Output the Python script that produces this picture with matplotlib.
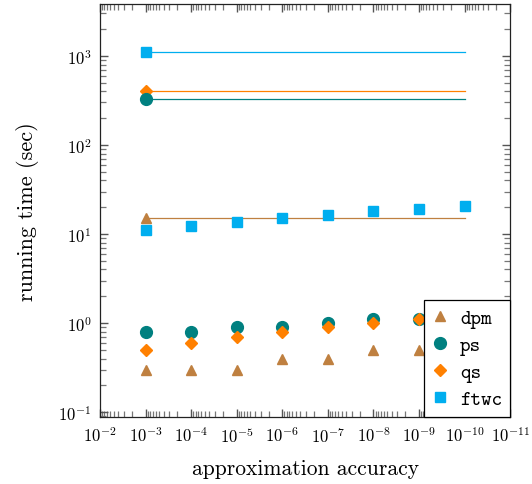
import matplotlib
matplotlib.use("Agg")
import matplotlib.pyplot as plt
from matplotlib.ticker import NullFormatter, FixedLocator
import numpy as np

# ======================================================
# DATA
# ======================================================

accuracy = [1e-3, 1e-4, 1e-5, 1e-6, 1e-7, 1e-8, 1e-9, 1e-10]

dpm = [0.3, 0.3, 0.3, 0.4, 0.4, 0.5, 0.5]
ps = [0.8, 0.8, 0.9, 0.9, 1.0, 1.1, 1.1]
qs = [0.5, 0.6, 0.7, 0.8, 0.9, 1.0, 1.1]
ftwc = [11, 12.4, 13.7, 15.1, 16.5, 18, 19.1, 20.8]

# flat reference levels (value at 1e-3 carried across)
dpm_level = 15.1
ps_level = 330
qs_level = 405
ftwc_level = 1110

# ======================================================
# STYLE
# ======================================================

BROWN = "#bf8040"
TEAL = "#008080"
ORANGE = "#ff8000"
CYAN = "#00aeef"

plt.rcParams["font.family"] = "cmr10"
plt.rcParams["mathtext.fontset"] = "cm"
plt.rcParams["axes.formatter.use_mathtext"] = True

fig = plt.figure(figsize=(5.32, 4.85), dpi=100)
ax = fig.add_axes([0.188, 0.138, 0.771, 0.852])

# level lines with a marker at the start
span = [accuracy[0], accuracy[-1]]
ax.plot(span, [ftwc_level] * 2, color=CYAN, lw=0.9, marker="s", ms=7,
        markevery=[0], label="_nolegend_")
ax.plot(span, [qs_level] * 2, color=ORANGE, lw=0.9, marker="D", ms=6,
        markevery=[0], label="_nolegend_")
ax.plot(span, [ps_level] * 2, color=TEAL, lw=0.9, marker="o", ms=8.5,
        markevery=[0], label="_nolegend_")
ax.plot(span, [dpm_level] * 2, color=BROWN, lw=0.9, marker="^", ms=7.5,
        markevery=[0], label="_nolegend_")

# scatter series
n = len(dpm)
ax.plot(accuracy[:n], dpm, ls="none", marker="^", ms=7.5, color=BROWN, label="dpm")
ax.plot(accuracy[:n], ps, ls="none", marker="o", ms=8.5, color=TEAL, label="ps")
ax.plot(accuracy[:n], qs, ls="none", marker="D", ms=6, color=ORANGE, label="qs")
ax.plot(accuracy, ftwc, ls="none", marker="s", ms=7, color=CYAN, label="ftwc")

ax.set_xscale("log")
ax.set_yscale("log")
ax.set_xlim(1e-2, 1e-11)
ax.set_ylim(0.088, 3840)
ax.xaxis.set_major_locator(FixedLocator([10.0 ** -k for k in range(2, 12)]))
ax.yaxis.set_major_locator(FixedLocator([10.0 ** k for k in range(-1, 4)]))

# minor ticks at 2..9 of every decade
x_minor = [m * 10.0 ** e for e in range(-12, -1) for m in range(2, 10)]
y_minor = [m * 10.0 ** e for e in range(-2, 4) for m in range(2, 10)]
ax.xaxis.set_minor_locator(FixedLocator(x_minor))
ax.yaxis.set_minor_locator(FixedLocator(y_minor))
ax.xaxis.set_minor_formatter(NullFormatter())
ax.yaxis.set_minor_formatter(NullFormatter())

ax.tick_params(axis="both", which="both", direction="in", top=True, right=True,
               labelsize=12)
ax.tick_params(axis="both", which="major", length=6, width=1.0, pad=6,
               color="#555555")
ax.tick_params(axis="both", which="minor", length=4, width=0.9,
               color="#777777")
for s in ax.spines.values():
    s.set_color("#222222")
    s.set_linewidth(0.9)

ax.set_xlabel("approximation accuracy", fontsize=15.5, labelpad=10)
ax.set_ylabel("running time (sec)", fontsize=16, labelpad=14)

leg = ax.legend(loc="lower right", borderaxespad=0, fancybox=False,
                framealpha=1, edgecolor="black", handlelength=0.8,
                handletextpad=0.6, borderpad=0.4, labelspacing=0.4,
                prop={"family": "cmtt10", "size": 14.5})
leg.get_frame().set_linewidth(0.9)
leg.set_zorder(5)

fig.savefig("out.png", dpi=100)
